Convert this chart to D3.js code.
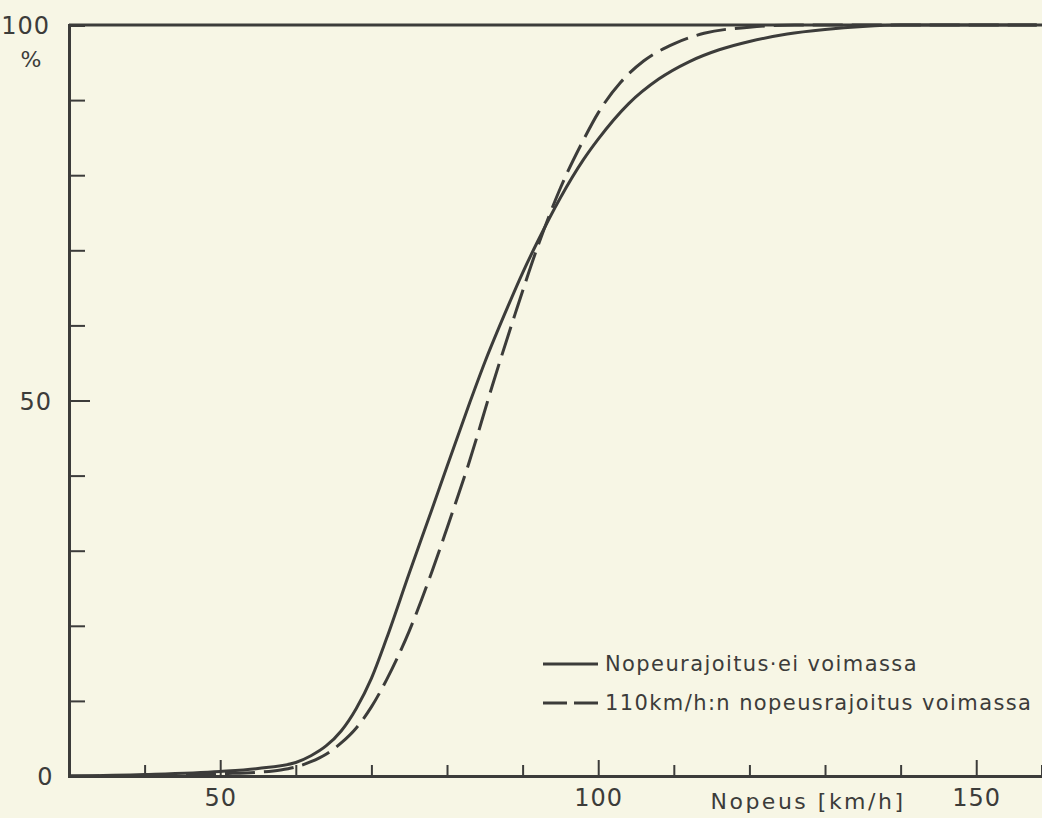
<!DOCTYPE html>
<meta charset="utf-8">
<head>
  <style>
    body { margin: 0; background: #f7f6e5; }
    svg { display: block; }
    text { font-family: "DejaVu Sans", sans-serif; fill: #3c3c3a; }
  </style>
</head>
<body>
<script src="https://cdnjs.cloudflare.com/ajax/libs/d3/7.8.5/d3.min.js"></script>
<script>

// speed in km/h and cumulative share in %
const speeds = [30, 40, 50, 55, 60, 62, 64, 66, 68, 70, 72, 75, 78, 80, 83, 85, 88, 90, 92, 95, 98, 100, 104, 108, 112, 116, 120, 125, 130, 135, 140, 158];
const noLimit = [0, 0.2, 0.6, 1.0, 1.8, 2.7, 4.0, 6.0, 9.0, 13, 18.3, 27, 35.5, 41.2, 49.7, 55.1, 62.4, 67, 71.2, 77, 82, 84.8, 89.5, 92.8, 95.1, 96.7, 97.8, 98.8, 99.4, 99.8, 100, 100];

const speeds2 = [30, 45, 50, 55, 58, 60, 62, 64, 66, 68, 70, 72, 75, 78, 80, 83, 86, 89, 92, 95, 98, 100, 103, 106, 110, 114, 120, 126, 158];
const limit110 = [0, 0.1, 0.3, 0.5, 0.8, 1.2, 1.9, 2.9, 4.4, 6.4, 9.2, 12.8, 19.3, 27.2, 33, 42, 52, 61.5, 70.5, 78.3, 84.6, 88.3, 92.4, 95.2, 97.5, 98.9, 99.7, 100, 100];

const xTicks = [40, 50, 60, 70, 80, 90, 100, 110, 120, 130, 140, 150];
const xLabels = [50, 100, 150];
const yTicks = [10, 20, 30, 40, 50, 60, 70, 80, 90];
const legendLabels = ["Nopeurajoitus·ei voimassa", "110km/h:n nopeusrajoitus voimassa"];

const W = 1042, H = 818;
const ink = "#3c3c3a";

const svg = d3.select("body").append("svg")
  .attr("width", W)
  .attr("height", H);

const x = d3.scaleLinear().domain([30, 158.7]).range([69, W]);
const y = d3.scaleLinear().domain([0, 100]).range([776, 25]);

// x axis, ticks pointing inward
const xAxis = d3.axisBottom(x)
  .tickValues(xTicks)
  .tickSize(-11)
  .tickPadding(13)
  .tickFormat(d => xLabels.includes(d) ? d : "");

const gx = svg.append("g")
  .attr("transform", "translate(0," + y(0) + ")")
  .call(xAxis);
gx.select(".domain").attr("stroke", ink).attr("stroke-width", 3);
gx.selectAll(".tick line").attr("stroke", ink).attr("stroke-width", 2)
  .attr("y2", d => xLabels.includes(d) ? -16 : -11);
gx.selectAll(".tick text").attr("font-size", 24).attr("font-family", null)
  .attr("fill", ink).attr("letter-spacing", 1);

// y axis
const yAxis = d3.axisLeft(y)
  .tickValues(yTicks)
  .tickSize(-16)
  .tickFormat("");

const gy = svg.append("g")
  .attr("transform", "translate(" + x(30) + ",0)")
  .call(yAxis);
gy.select(".domain").attr("stroke", ink).attr("stroke-width", 3);
gy.selectAll(".tick line").attr("stroke", ink).attr("stroke-width", 2)
  .attr("x2", d => d === 50 ? 21 : 16);

// top frame line
svg.append("line")
  .attr("x1", x(30)).attr("x2", x(158.7))
  .attr("y1", y(100)).attr("y2", y(100))
  .attr("stroke", ink).attr("stroke-width", 3);

// y labels
svg.append("text").attr("x", 50).attr("y", y(100) + 9).attr("text-anchor", "end")
  .attr("font-size", 24).attr("letter-spacing", 1).text("100");
svg.append("text").attr("x", 31).attr("y", y(100) + 42).attr("text-anchor", "middle")
  .attr("font-size", 22).text("%");
svg.append("text").attr("x", 52).attr("y", y(50) + 9).attr("text-anchor", "end")
  .attr("font-size", 24).attr("letter-spacing", 1).text("50");
svg.append("text").attr("x", 45).attr("y", y(0) + 9).attr("text-anchor", "middle")
  .attr("font-size", 24).text("0");

// axis title
svg.append("text").attr("x", 808).attr("y", y(0) + 33).attr("text-anchor", "middle")
  .attr("font-size", 22).attr("letter-spacing", 2.5).text("Nopeus [km/h]");

const line = d3.line()
  .x(d => x(d[0]))
  .y(d => y(d[1]))
  .curve(d3.curveMonotoneX);

svg.append("path")
  .datum(d3.zip(speeds, noLimit))
  .attr("d", line)
  .attr("fill", "none")
  .attr("stroke", ink)
  .attr("stroke-width", 3);

svg.append("path")
  .datum(d3.zip(speeds2, limit110))
  .attr("d", line)
  .attr("fill", "none")
  .attr("stroke", ink)
  .attr("stroke-width", 3)
  .attr("stroke-dasharray", "30,9");

// legend
const legend = svg.append("g");
legendLabels.forEach((label, i) => {
  const ly = 664 + i * 39;
  legend.append("line")
    .attr("x1", 543).attr("x2", 598)
    .attr("y1", ly).attr("y2", ly)
    .attr("stroke", ink).attr("stroke-width", 3)
    .attr("stroke-dasharray", i === 1 ? "24,7" : null);
  legend.append("text")
    .attr("x", 605).attr("y", ly + 7)
    .attr("font-size", 21)
    .attr("letter-spacing", 1.4)
    .text(label);
});

</script>
</body>
